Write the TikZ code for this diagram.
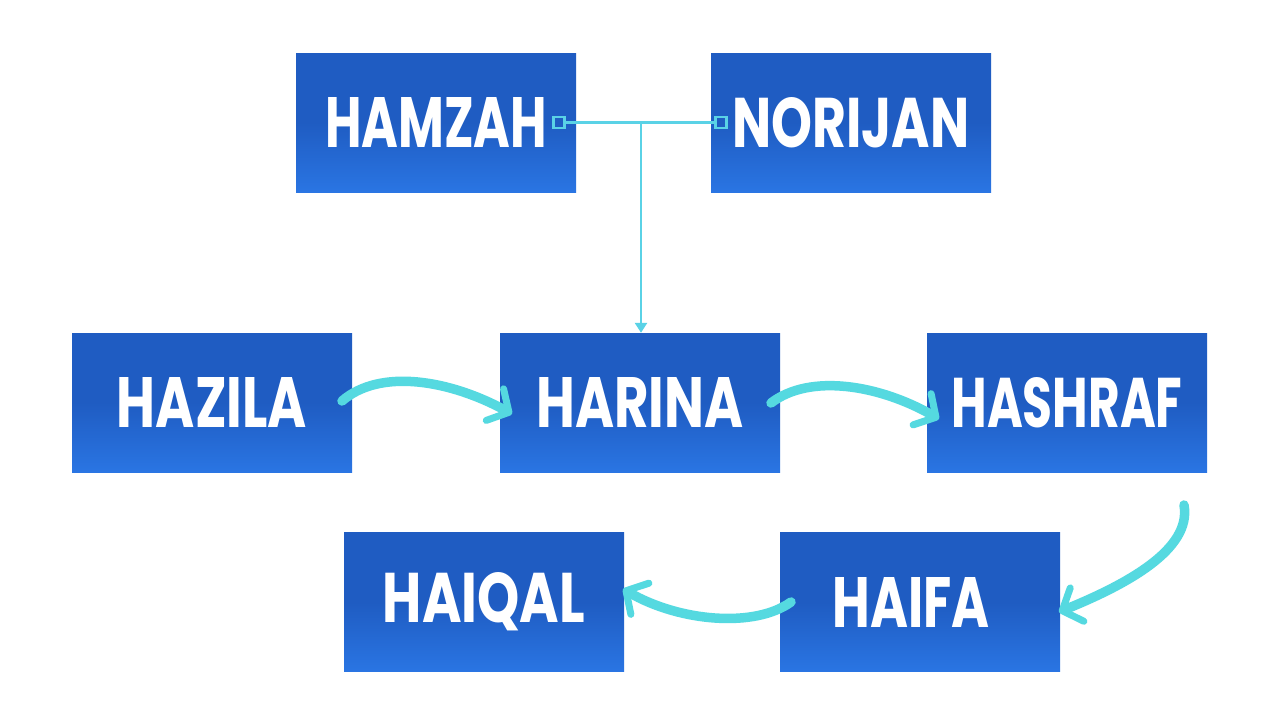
\documentclass[tikz,border=0pt]{standalone}
\usepackage{fontspec}
\setmainfont{Poppins}
\usetikzlibrary{arrows.meta,calc}
\definecolor{boxtop}{HTML}{1F5CC2}
\definecolor{boxbot}{HTML}{2A75E3}
\definecolor{cyanarrow}{HTML}{55D9E0}
\definecolor{cyanline}{HTML}{5AD2E6}
\tikzset{
  person/.style={minimum width=280pt,minimum height=139pt,inner sep=0pt,
    top color=boxtop,bottom color=boxbot,middle color=boxtop,shading angle=0,
    text=white,font=\bfseries},
  brush/.style={cyanarrow,line width=9.5pt,line cap=round,
    -{Straight Barb[length=16pt,width=36pt,line width=7pt,round]}},
  knot/.style={draw=cyanline,line width=2.6pt,fill=boxtop,minimum size=11pt,inner sep=0pt},
  thin/.style={cyanline,line width=2.8pt}
}
\newcommand{\lbl}[2]{\resizebox{#1pt}{50pt}{#2}}
\begin{document}
\begin{tikzpicture}[x=1pt,y=-1pt]
\useasboundingbox[fill=white] (0,0) rectangle (1280,720);
\node[person] (hamzah)  at (436,122.5) {\lbl{222}{HAMZAH}};
\node[person] (norijan) at (851,122.5) {\lbl{237}{NORIJAN}};
\node[person] (hazila)  at (212,402.5) {\lbl{190}{HAZILA}};
\node[person] (harina)  at (640,402.5) {\lbl{207}{HARINA}};
\node[person] (hashraf) at (1067,402.5) {\lbl{231}{HASHRAF}};
\node[person] (haiqal)  at (484,602) {\lbl{202}{HAIQAL}};
\node[person] (haifa)   at (920,602) {\hspace*{-18pt}\lbl{157}{HAIFA}};
% marriage connector
\node[knot] (k1) at (559,122.5) {};
\node[knot] (k2) at (721,122.5) {};
\coordinate (mid) at (641,122.5);
\draw[thin] (k1.east) -- (k2.west);
\draw[thin,-{Triangle[length=10pt,width=12pt]}] (mid) -- (mid |- harina.north);
% brush arrows
\coordinate (a1s) at (342,401); \coordinate (a1e) at (512,414);
\coordinate (a2s) at (771,403); \coordinate (a2e) at (939,419);
\coordinate (a3s) at (1184,505); \coordinate (a3e) at (1059,612);
\coordinate (a4s) at (791,602); \coordinate (a4e) at (623,589);
\draw[brush] (a1s) .. controls (380,368) and (450,380) .. (a1e);
\draw[brush] (a2s) .. controls (810,373) and (880,385) .. (a2e);
\draw[brush] (a3s) .. controls (1192,550) and (1125,585) .. (a3e);
\draw[brush] (a4s) .. controls (755,628) and (680,622) .. (a4e);
\end{tikzpicture}
\end{document}
